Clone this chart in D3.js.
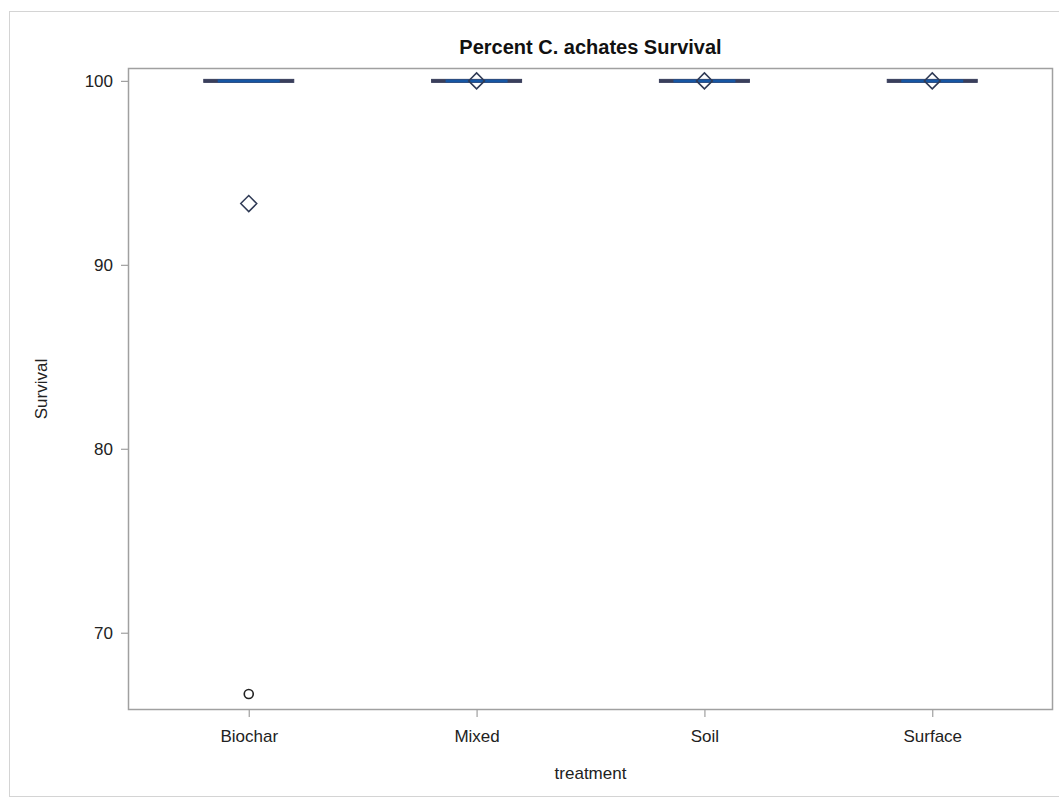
<!DOCTYPE html>
<html>
<head>
<meta charset="utf-8">
<script src="https://cdn.jsdelivr.net/npm/d3@7"></script>
<style>
  body { margin: 0; background: #fff; }
  text { font-family: "Liberation Sans", Arial, sans-serif; }
</style>
</head>
<body>
<div class="chart"></div>
<script>
const treatments = ["Biochar", "Mixed", "Soil", "Surface"];
const q1Values = [100, 100, 100, 100];
const medianValues = [100, 100, 100, 100];
const q3Values = [100, 100, 100, 100];
const meanValues = [93.33, 100, 100, 100];
const outliers = [{ treatment: "Biochar", value: 66.67 }];
const yTicks = [70, 80, 90, 100];

const svgWidth = 1059, svgHeight = 802;
const margin = { top: 68, right: 6, bottom: 92, left: 128 };
const width = svgWidth - margin.left - margin.right;
const height = svgHeight - margin.top - margin.bottom;

const root = d3.select(".chart").append("svg")
  .attr("width", svgWidth)
  .attr("height", svgHeight);

// outer frame
root.append("rect")
  .attr("x", 9.5).attr("y", 11.5)
  .attr("width", svgWidth).attr("height", 785)
  .attr("fill", "none").attr("stroke", "#d4d4d4");

const svg = root.append("g")
  .attr("transform", `translate(${margin.left},${margin.top})`);

const x = d3.scalePoint()
  .domain(treatments)
  .range([0, width])
  .padding(0.53);

const y = d3.scaleLinear()
  .domain([65.8, 100.7])
  .range([height, 0]);

const boxW = 90;

// plot frame
svg.append("rect")
  .attr("x", 0.5).attr("y", 0.5)
  .attr("width", width - 1).attr("height", height - 1)
  .attr("fill", "none").attr("stroke", "#a0a0a0").attr("stroke-width", 1.5);

// axes
const yAxis = svg.append("g")
  .call(d3.axisLeft(y).tickValues(yTicks).tickSize(7).tickPadding(8));
const xAxis = svg.append("g")
  .attr("transform", `translate(0,${height})`)
  .call(d3.axisBottom(x).tickSize(7).tickPadding(13));
[xAxis, yAxis].forEach(a => {
  a.select(".domain").remove();
  a.selectAll("line").attr("stroke", "#a0a0a0").attr("stroke-width", 1.2);
  a.selectAll("text").attr("font-size", 17).attr("fill", "#222");
});

// boxes (flat at 100)
const boxes = svg.selectAll(".box")
  .data(treatments)
  .enter().append("g")
  .attr("class", "box");

boxes.append("rect")
  .attr("x", d => x(d) - boxW / 2)
  .attr("y", (d, i) => y(q3Values[i]) - 1.5)
  .attr("width", boxW)
  .attr("height", (d, i) => y(q1Values[i]) - y(q3Values[i]) + 3)
  .attr("fill", "#3a3f5c")
  .attr("stroke", "#3a3f5c")
  .attr("stroke-width", 1);

boxes.append("line")
  .attr("x1", d => x(d) - boxW / 2 + 14)
  .attr("x2", d => x(d) + boxW / 2 - 14)
  .attr("y1", (d, i) => y(medianValues[i]))
  .attr("y2", (d, i) => y(medianValues[i]))
  .attr("stroke", "#1656a3")
  .attr("stroke-width", 3);

// means
const dS = 8;
svg.selectAll(".mean")
  .data(treatments)
  .enter().append("path")
  .attr("class", "mean")
  .attr("transform", (d, i) => `translate(${x(d)},${y(meanValues[i])})`)
  .attr("d", `M0,${-dS}L${dS},0L0,${dS}L${-dS},0Z`)
  .attr("fill", "none")
  .attr("stroke", "#2f3a55")
  .attr("stroke-width", 1.5);

// outliers
svg.selectAll(".outlier")
  .data(outliers)
  .enter().append("circle")
  .attr("class", "outlier")
  .attr("cx", d => x(d.treatment))
  .attr("cy", d => y(d.value))
  .attr("r", 4.5)
  .attr("fill", "none")
  .attr("stroke", "#222")
  .attr("stroke-width", 1.6);

// labels
root.append("text")
  .attr("x", margin.left + width / 2).attr("y", 54)
  .attr("text-anchor", "middle")
  .attr("font-size", 20).attr("font-weight", "bold").attr("fill", "#111")
  .text("Percent C. achates Survival");

root.append("text")
  .attr("x", margin.left + width / 2).attr("y", 779)
  .attr("text-anchor", "middle")
  .attr("font-size", 17).attr("fill", "#222")
  .text("treatment");

root.append("text")
  .attr("transform", `translate(47,${margin.top + height / 2}) rotate(-90)`)
  .attr("text-anchor", "middle")
  .attr("font-size", 17).attr("fill", "#222")
  .text("Survival");
</script>
</body>
</html>
